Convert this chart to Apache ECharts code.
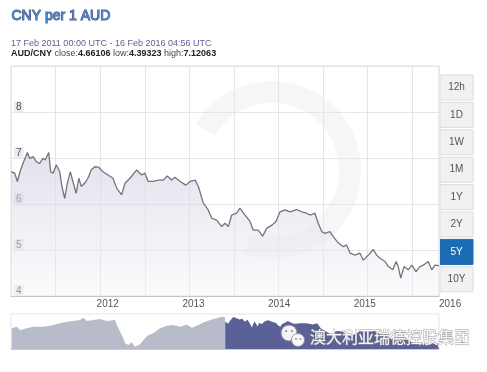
<!DOCTYPE html>
<html><head><meta charset="utf-8">
<script src="https://cdn.jsdelivr.net/npm/echarts@6/dist/echarts.min.js"></script>
<style>html,body{margin:0;padding:0;background:#fff}#c{width:487px;height:372px}</style>
</head><body><div id="c"></div>
<script>
// ---- data ----
const titleText = 'CNY per 1 AUD';
const rangeText = '17 Feb 2011 00:00 UTC - 16 Feb 2016 04:56 UTC';
const pairName = 'AUD/CNY';
const closeVal = '4.66106', lowVal = '4.39323', highVal = '7.12063';
const watermarkText = '澳大利亚瑞德控股集团';

const mainDates = ['2011-02-18','2011-03-05','2011-03-16','2011-03-30','2011-04-09','2011-04-28','2011-05-08','2011-05-22','2011-06-05','2011-06-19',
'2011-07-03','2011-07-13','2011-07-28','2011-08-05','2011-08-15','2011-08-29','2011-09-13','2011-09-22','2011-10-04','2011-10-15',
'2011-10-28','2011-11-08','2011-11-22','2011-12-03','2011-12-14','2011-12-28','2012-01-11','2012-01-25','2012-02-09','2012-02-26',
'2012-03-15','2012-04-06','2012-04-27','2012-05-13','2012-06-03','2012-06-17','2012-07-08','2012-08-06','2012-08-27','2012-09-10',
'2012-09-24','2012-10-16','2012-11-06','2012-11-27','2012-12-14','2013-01-02','2013-01-16','2013-02-07','2013-03-04','2013-03-21',
'2013-04-12','2013-04-26','2013-05-17','2013-06-07','2013-06-22','2013-07-13','2013-08-03','2013-08-17','2013-09-01','2013-09-15',
'2013-10-06','2013-10-20','2013-11-11','2013-12-02','2013-12-16','2014-01-06','2014-01-25','2014-02-11','2014-03-05','2014-03-23',
'2014-04-09','2014-04-30','2014-05-22','2014-06-19','2014-07-11','2014-08-01','2014-08-15','2014-09-05','2014-09-19','2014-10-04',
'2014-10-18','2014-11-08','2014-11-22','2014-12-14','2015-01-04','2015-01-18','2015-02-02','2015-02-23','2015-03-16','2015-03-30',
'2015-04-21','2015-05-12','2015-05-26','2015-06-09','2015-07-01','2015-07-15','2015-08-03','2015-08-17','2015-08-26','2015-09-06',
'2015-09-20','2015-10-08','2015-10-23','2015-11-10','2015-11-27','2015-12-11','2016-01-01','2016-01-16','2016-01-30','2016-02-16'];
const mainValues = [6.70,6.67,6.49,6.74,6.88,7.12,6.99,7.03,6.92,6.88,
6.99,6.96,7.12,6.70,6.67,6.85,6.70,6.38,6.12,6.45,
6.70,6.49,6.23,6.56,6.38,6.45,6.56,6.74,6.81,6.80,
6.70,6.63,6.56,6.34,6.20,6.45,6.56,6.74,6.63,6.67,
6.49,6.49,6.52,6.52,6.61,6.52,6.58,6.49,6.41,6.49,
6.52,6.38,6.02,5.87,5.69,5.65,5.51,5.58,5.51,5.76,
5.80,5.91,5.76,5.62,5.43,5.43,5.30,5.47,5.54,5.62,
5.83,5.87,5.83,5.88,5.83,5.80,5.76,5.80,5.58,5.40,
5.36,5.40,5.29,5.15,5.07,5.11,4.93,4.89,4.93,4.78,
4.89,5.01,4.89,4.82,4.75,4.64,4.57,4.75,4.64,4.39,
4.64,4.57,4.67,4.53,4.64,4.67,4.75,4.57,4.67,4.66];

// navigator history (before the selected 5-year window)
const histDates = ['2006-02-23','2006-04-07','2006-05-05','2006-07-01','2006-08-26','2006-11-20','2007-01-16','2007-04-11','2007-06-07','2007-08-03',
'2007-09-29','2007-10-27','2007-11-25','2008-01-20','2008-03-17','2008-05-14','2008-07-23','2008-08-21','2008-10-02','2008-10-17',
'2008-11-14','2008-12-13','2009-01-10','2009-02-22','2009-03-22','2009-05-04','2009-06-15','2009-08-11','2009-10-08','2009-12-03',
'2010-01-29','2010-03-27','2010-05-09','2010-06-21','2010-08-16','2010-10-12','2010-12-08','2011-01-20','2011-02-17'];
const histValues = [6.05,6.20,5.89,6.05,6.20,6.20,6.29,6.52,6.67,6.74,
6.83,7.05,6.74,6.83,6.92,6.74,6.83,6.05,5.11,4.64,
4.48,4.73,4.32,4.54,4.95,5.42,5.58,6.05,6.29,6.36,
6.20,6.42,6.10,6.29,6.61,6.83,6.99,7.14,7.10];

const yearLabelDates = ['2012-02-17','2013-02-17','2014-02-17','2015-02-17','2016-02-16'];
const rangeButtons = ['12h','1D','1W','1M','1Y','2Y','5Y','10Y'];
const activeButton = '5Y';

// ---- helpers ----
function toTime(s){const p=s.split('-').map(Number);return new Date(p[0],p[1]-1,p[2]).getTime();}
const mainData = mainDates.map((d,i)=>[toTime(d),mainValues[i]]);
const histData = histDates.map((d,i)=>[toTime(d),histValues[i]]);

const chart = echarts.init(document.getElementById('c'));
const FONT = 'Liberation Sans, Arial, sans-serif';

const buttonEls = [];
rangeButtons.forEach((b,i)=>{
  const active = b===activeButton;
  const top = 75 + i*27.4;
  buttonEls.push({type:'rect',shape:{x:440,y:top,width:33,height:25},
    style:{fill:active?'#1c6cb4':'#f1f1f1',stroke:active?'#1c6cb4':'#dcdcdc',lineWidth:1}});
  buttonEls.push({type:'text',x:456.5,y:top+12.5,
    style:{text:b,fill:active?'#ffffff':'#555555',font:'10px '+FONT,align:'center',verticalAlign:'middle'}});
});

chart.setOption({
  animation:false,
  backgroundColor:'#ffffff',
  grid:[
    {left:11,right:48,top:66,height:230,show:true,borderColor:'#dedede',borderWidth:1,backgroundColor:'transparent'},
    {left:11,right:48,top:314,height:35,show:true,borderColor:'#e6e6e6',borderWidth:1}
  ],
  xAxis:[
    {type:'value',gridIndex:0,min:toTime('2011-02-17'),max:toTime('2016-02-16'),scale:true,
     axisLine:{show:true,lineStyle:{color:'#c4c4c4'}},axisTick:{show:false},splitLine:{show:false},
     axisLabel:{customValues:yearLabelDates.map(toTime),formatter:v=>String(new Date(v).getFullYear()),
       align:'left',margin:3,color:'#555',fontSize:10,fontFamily:FONT}},
    {type:'value',gridIndex:0,min:0,max:9.6,interval:1,show:true,position:'top',
     axisLine:{show:false},axisTick:{show:false},axisLabel:{show:false},
     splitLine:{show:true,lineStyle:{color:'#e6e6e6',width:1}}},
    {type:'value',gridIndex:1,min:toTime('2006-02-17'),max:toTime('2016-02-16'),scale:true,
     axisLine:{show:true,lineStyle:{color:'#cccccc'}},axisTick:{show:false},axisLabel:{show:false},
     splitLine:{show:false}}
  ],
  yAxis:[
    {type:'value',gridIndex:0,min:4,max:9,interval:1,
     axisLine:{show:false},axisTick:{show:false},
     splitLine:{show:true,lineStyle:{color:'#e6e6e6'}},
     axisLabel:{inside:true,align:'left',verticalAlign:'bottom',margin:3,color:'#555',fontSize:10,fontFamily:FONT,
       showMaxLabel:false,backgroundColor:'rgba(232,232,240,0.85)',padding:[1,2,0,2]}},
    {type:'value',gridIndex:1,min:4.1,max:7.4,show:false,splitLine:{show:false}}
  ],
  series:[
    {type:'line',xAxisIndex:0,yAxisIndex:0,data:mainData,showSymbol:false,symbol:'none',z:3,
     lineStyle:{color:'#74747f',width:1.3},
     areaStyle:{origin:'start',color:new echarts.graphic.LinearGradient(0,0,0,1,[
       {offset:0,color:'rgba(206,207,224,0.9)'},{offset:1,color:'rgba(244,244,248,0.6)'}])}},
    {type:'line',xAxisIndex:2,yAxisIndex:1,data:histData,showSymbol:false,symbol:'none',
     lineStyle:{width:0},areaStyle:{origin:'start',color:'#b8bbc9',opacity:1}},
    {type:'line',xAxisIndex:2,yAxisIndex:1,data:mainData,showSymbol:false,symbol:'none',
     lineStyle:{width:0},areaStyle:{origin:'start',color:'#5b6197',opacity:1}}
  ],
  graphic:[
    {type:'text',left:11,top:9,style:{text:titleText,fill:'#4a88c2',font:'14px '+FONT}},
    {type:'text',left:11,top:39,style:{text:rangeText,fill:'#333',font:'9px '+FONT}},
    {type:'text',left:11,top:49,style:{
      text:'{b|'+pairName+'} close:{b|'+closeVal+'} low:{b|'+lowVal+'} high:{b|'+highVal+'}',
      fill:'#444',font:'9px '+FONT,
      rich:{b:{fontWeight:'bold',fill:'#222',fontSize:9,fontFamily:FONT}}}},
    {type:'arc',shape:{cx:272,cy:170,r:78,startAngle:-2.6,endAngle:1.9},z:-10,silent:true,
     style:{stroke:'rgba(236,236,241,0.45)',lineWidth:22,fill:null}},
    {type:'group',children:buttonEls},
    {type:'circle',shape:{cx:289,cy:333,r:8},z:50,style:{fill:'rgba(255,255,255,0.92)',stroke:'#8f8f8f',lineWidth:1}},
    {type:'circle',shape:{cx:298,cy:340,r:6.5},z:51,style:{fill:'rgba(255,255,255,0.95)',stroke:'#8f8f8f',lineWidth:1}},
    {type:'circle',shape:{cx:286,cy:331,r:1.1},z:52,style:{fill:'#8f8f8f'}},
    {type:'circle',shape:{cx:292,cy:331,r:1.1},z:52,style:{fill:'#8f8f8f'}},
    {type:'circle',shape:{cx:296,cy:339,r:0.9},z:52,style:{fill:'#8f8f8f'}},
    {type:'circle',shape:{cx:300.5,cy:339,r:0.9},z:52,style:{fill:'#8f8f8f'}},
    {type:'text',x:310,y:337,z:52,style:{text:watermarkText,fill:'rgba(255,255,255,0.92)',stroke:'#9a9a9a',lineWidth:0.8,
      font:'16px "Noto Sans CJK SC", sans-serif',verticalAlign:'middle'}}
  ]
});

const hx = chart.convertToPixel({xAxisIndex:2},toTime('2011-02-17'));
chart.setOption({graphic:[
  {type:'line',shape:{x1:hx,y1:314,x2:hx,y2:349},z:40,style:{stroke:'#4a5088',lineWidth:1}},
  {type:'polygon',shape:{points:[[hx-3,326],[hx-3,338],[hx-7,332]]},z:40,style:{fill:'#5b6197'}}
]});
</script>
</body></html>
